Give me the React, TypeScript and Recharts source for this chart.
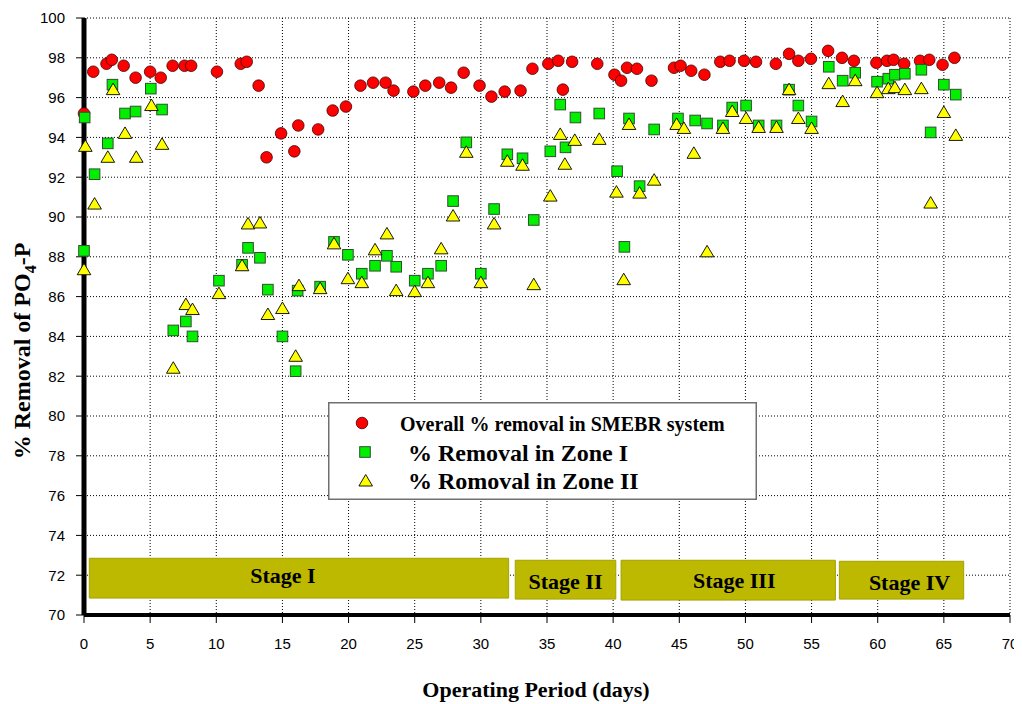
import React from "react";
import {
  CartesianGrid,
  ReferenceArea,
  Scatter,
  ScatterChart,
  XAxis,
  YAxis,
} from "recharts";

// Operating period (days) and % PO4-P removal
const overallDays = [
  0, 0.7, 1.7, 2.1, 3.0, 3.9, 5.0, 5.8, 6.7, 7.6, 8.1, 10.05, 11.85, 12.3, 13.2, 13.8, 14.9,
  15.9, 16.2, 17.7, 18.8, 19.8, 20.9, 21.85, 22.8, 23.4, 24.9, 25.8, 26.85, 27.75, 28.7, 29.9,
  30.8, 31.8, 33.0, 33.9, 35.1, 35.85, 36.2, 36.9, 38.8, 40.1, 40.6, 41.05, 41.8, 42.9, 44.6,
  45.1, 45.9, 46.9, 48.1, 48.8, 49.9, 50.8, 52.3, 53.3, 54.0, 54.95, 56.25, 57.3, 58.2, 59.9,
  60.7, 61.2, 62.0, 63.2, 63.9, 64.9, 65.8,
];
const overallRemoval = [
  95.2, 97.3, 97.7, 97.9, 97.6, 97.0, 97.3, 97.0, 97.6, 97.6, 97.6, 97.3, 97.7, 97.8, 96.6, 93.0,
  94.2, 93.3, 94.6, 94.4, 95.35, 95.55, 96.6, 96.75, 96.75, 96.35, 96.3, 96.6, 96.75, 96.5, 97.25,
  96.6, 96.05, 96.3, 96.35, 97.45, 97.7, 97.85, 96.4, 97.8, 97.7, 97.15, 96.85, 97.5, 97.45,
  96.85, 97.5, 97.6, 97.35, 97.15, 97.8, 97.85, 97.85, 97.8, 97.7, 98.2, 97.85, 97.95, 98.35,
  98.0, 97.85, 97.75, 97.85, 97.9, 97.7, 97.85, 97.9, 97.65, 98.0,
];

const zone1Days = [
  0, 0.05, 0.8, 1.8, 2.15, 3.1, 3.9, 5.05, 5.9, 6.75, 7.7, 8.2, 10.2, 11.95, 12.4, 13.3, 13.9,
  15.0, 16.0, 16.15, 17.85, 18.9, 19.95, 21.0, 22.0, 22.9, 23.6, 25.0, 26.0, 27.0, 27.9, 28.9,
  30.0, 31.0, 32.0, 33.15, 34.0, 35.25, 36.0, 36.4, 37.15, 38.95, 40.3, 40.85, 41.2, 42.0, 43.1,
  44.9, 46.2, 47.1, 48.3, 49.0, 50.05, 51.0, 52.35, 53.3, 54.0, 55.0, 56.3, 57.35, 58.3, 59.95,
  60.8, 61.3, 62.05, 63.3, 64.0, 65.0, 65.9,
];
const zone1Removal = [
  88.3, 95.0, 92.15, 93.7, 96.65, 95.2, 95.3, 96.45, 95.4, 84.3, 84.75, 84.0, 86.8, 87.6, 88.45,
  87.95, 86.35, 84.0, 82.25, 86.3, 86.5, 88.75, 88.1, 87.15, 87.55, 88.05, 87.5, 86.8, 87.15,
  87.55, 90.8, 93.75, 87.15, 90.4, 93.15, 92.95, 89.85, 93.3, 95.65, 93.5, 95.0, 95.2, 92.3, 88.5,
  94.95, 91.55, 94.4, 94.95, 94.85, 94.7, 94.6, 95.5, 95.6, 94.6, 94.6, 96.4, 95.6, 94.8, 97.55,
  96.85, 97.25, 96.8, 96.95, 97.15, 97.2, 97.4, 94.25, 96.65, 96.15,
];

const zone2Days = [
  0, 0.1, 0.8, 1.8, 2.2, 3.1, 3.95, 5.1, 5.9, 6.75, 7.7, 8.2, 10.2, 11.95, 12.4, 13.3, 13.9, 15.0,
  16.0, 16.25, 17.85, 18.9, 19.95, 21.0, 22.0, 22.9, 23.6, 25.0, 26.0, 27.0, 27.9, 28.9, 30.0,
  31.0, 32.0, 33.15, 34.0, 35.25, 36.0, 36.35, 37.1, 38.95, 40.25, 40.8, 41.2, 42.0, 43.1, 44.8,
  45.35, 46.1, 47.1, 48.3, 49.0, 50.05, 51.0, 52.35, 53.3, 54.0, 55.0, 56.3, 57.35, 58.3, 59.95,
  60.8, 61.3, 62.05, 63.3, 64.0, 65.0, 65.9,
];
const zone2Removal = [
  87.35, 93.55, 90.65, 93.0, 96.4, 94.2, 93.0, 95.6, 93.65, 82.4, 85.6, 85.35, 86.15, 87.55,
  89.65, 89.7, 85.1, 85.4, 83.0, 86.55, 86.4, 88.65, 86.9, 86.7, 88.35, 89.15, 86.3, 86.25, 86.7,
  88.4, 90.05, 93.25, 86.7, 89.65, 92.8, 92.6, 86.6, 91.05, 94.15, 92.65, 93.85, 93.9, 91.25,
  86.85, 94.65, 91.2, 91.85, 94.65, 94.45, 93.2, 88.25, 94.45, 95.3, 94.95, 94.5, 94.5, 96.4,
  94.95, 94.45, 96.7, 95.8, 96.85, 96.25, 96.45, 96.5, 96.4, 96.45, 90.7, 95.25, 94.1,
];

// operating stages (days on x, % on y for the band)
const stageNames = ["Stage I", "Stage II", "Stage III", "Stage IV"];
const stageStart = [0.4, 32.6, 40.6, 57.1];
const stageEnd = [32.1, 40.2, 56.8, 66.5];
const stageTop = [72.85, 72.75, 72.75, 72.7];
const stageBottom = [70.85, 70.8, 70.75, 70.8];

const xTicks = [0, 5, 10, 15, 20, 25, 30, 35, 40, 45, 50, 55, 60, 65, 70];
const yTicks = [70, 72, 74, 76, 78, 80, 82, 84, 86, 88, 90, 92, 94, 96, 98, 100];

const legendLabels = [
  "Overall % removal in SMEBR system",
  "% Removal in Zone I",
  "% Romoval in Zone II",
];

const SERIF = '"Liberation Serif", "Times New Roman", serif';
const SANS = '"Liberation Sans", Arial, sans-serif';

const RED = "#FF0000";
const GREEN = "#00F000";
const YELLOW = "#FFFF00";
const OLIVE = "#BDB900";

const toPoints = (days: number[], values: number[]) =>
  days.map((d, i) => ({ x: d, y: values[i] }));

const overallData = toPoints(overallDays, overallRemoval);
const zone1Data = toPoints(zone1Days, zone1Removal);
const zone2Data = toPoints(zone2Days, zone2Removal);

// label nudges per stage, the original text is not centred exactly
const stageNudge = [
  { dx: -16, dy: -3 },
  { dx: 0, dy: 2 },
  { dx: 6, dy: 0 },
  { dx: 8, dy: 2 },
];

function Dot(props: any) {
  const { cx, cy } = props;
  if (cx == null || cy == null) return null;
  return <circle cx={cx} cy={cy} r={5.8} fill={RED} stroke="#400000" strokeWidth={0.8} />;
}

function Box(props: any) {
  const { cx, cy } = props;
  if (cx == null || cy == null) return null;
  return (
    <rect x={cx - 5.3} y={cy - 5.3} width={10.6} height={10.6} fill={GREEN} stroke="#2f4f2f" strokeWidth={1} />
  );
}

function Tri(props: any) {
  const { cx, cy } = props;
  if (cx == null || cy == null) return null;
  return (
    <polygon
      points={`${cx},${cy - 6.5} ${cx + 6.8},${cy + 5} ${cx - 6.8},${cy + 5}`}
      fill={YELLOW}
      stroke="#000"
      strokeWidth={0.9}
    />
  );
}

function stageLabel(i: number) {
  return (props: any) => {
    const vb = props.viewBox || {};
    const cx = (vb.x ?? 0) + (vb.width ?? 0) / 2 + stageNudge[i].dx;
    const cy = (vb.y ?? 0) + (vb.height ?? 0) / 2 + stageNudge[i].dy;
    return (
      <text
        x={cx}
        y={cy}
        textAnchor="middle"
        dominantBaseline="central"
        fontFamily={SERIF}
        fontWeight="bold"
        fontSize={22}
        fill="#000"
      >
        {stageNames[i]}
      </text>
    );
  };
}

function Legend() {
  return (
    <svg
      width={429}
      height={98}
      style={{ position: "absolute", left: 320, top: 394, background: "#fff" }}
    >
      <rect x={0.75} y={0.75} width={427.5} height={96.5} fill="#fff" stroke="#707070" strokeWidth={1.5} />
      <Dot cx={34} cy={21} />
      <Box cx={37} cy={50} />
      <Tri cx={37.7} cy={79} />
      <text x={72} y={29} fontFamily={SERIF} fontWeight="bold" fontSize={20} fill="#000">
        {legendLabels[0]}
      </text>
      <text x={80} y={59} fontFamily={SERIF} fontWeight="bold" fontSize={24} fill="#000">
        {legendLabels[1]}
      </text>
      <text x={80} y={87} fontFamily={SERIF} fontWeight="bold" fontSize={24} fill="#000">
        {legendLabels[2]}
      </text>
    </svg>
  );
}

export default function App() {
  return (
    <div style={{ position: "relative", width: 1014, height: 696 }}>
      <ScatterChart width={1014} height={696} margin={{ top: 10, right: 12, bottom: 0, left: 0 }}>
        <CartesianGrid stroke="#000" strokeDasharray="1 2" strokeWidth={1} />
        <XAxis
          type="number"
          dataKey="x"
          domain={[0, 70]}
          ticks={xTicks}
          interval={0}
          height={89}
          axisLine={{ stroke: "#000", strokeWidth: 4 }}
          tickLine={{ stroke: "#000", strokeWidth: 1 }}
          tickSize={8}
          tickMargin={15}
          tick={{ fontSize: 15, fill: "#000", fontFamily: SANS }}
          label={() => (
            <text
              x={528}
              y={689}
              textAnchor="middle"
              fontFamily={SERIF}
              fontWeight="bold"
              fontSize={22}
              fill="#000"
            >
              Operating Period (days)
            </text>
          )}
        />
        <XAxis
          xAxisId="top"
          orientation="top"
          type="number"
          domain={[0, 70]}
          height={0}
          tick={false}
          tickLine={false}
          axisLine={{ stroke: "#000", strokeWidth: 5 }}
        />
        <YAxis
          type="number"
          dataKey="y"
          domain={[70, 100]}
          ticks={yTicks}
          interval={0}
          width={76}
          axisLine={{ stroke: "#000", strokeWidth: 5 }}
          tickLine={{ stroke: "#000", strokeWidth: 1 }}
          tickSize={8}
          tickMargin={11}
          tick={{ fontSize: 15, fill: "#000", fontFamily: SANS }}
          label={() => (
            <text
              x={22}
              y={343}
              transform="rotate(-90, 22, 343)"
              textAnchor="middle"
              fontFamily={SERIF}
              fontWeight="bold"
              fontSize={24}
              fill="#000"
            >
              <tspan>% Removal of PO</tspan>
              <tspan fontSize={16} dy={6}>4</tspan>
              <tspan dy={-6}>-P</tspan>
            </text>
          )}
        />
        <YAxis
          yAxisId="right"
          orientation="right"
          type="number"
          domain={[70, 100]}
          width={0}
          tick={false}
          tickLine={false}
          axisLine={{ stroke: "#000", strokeWidth: 5 }}
        />
        {stageNames.map((name, i) => (
          <ReferenceArea
            key={name}
            x1={stageStart[i]}
            x2={stageEnd[i]}
            y1={stageBottom[i]}
            y2={stageTop[i]}
            fill={OLIVE}
            fillOpacity={1}
            stroke="#A5A100"
            strokeWidth={1}
            label={stageLabel(i)}
          />
        ))}
        <Scatter name={legendLabels[0]} data={overallData} shape={Dot} isAnimationActive={false} />
        <Scatter name={legendLabels[1]} data={zone1Data} shape={Box} isAnimationActive={false} />
        <Scatter name={legendLabels[2]} data={zone2Data} shape={Tri} isAnimationActive={false} />
      </ScatterChart>
      <Legend />
    </div>
  );
}
